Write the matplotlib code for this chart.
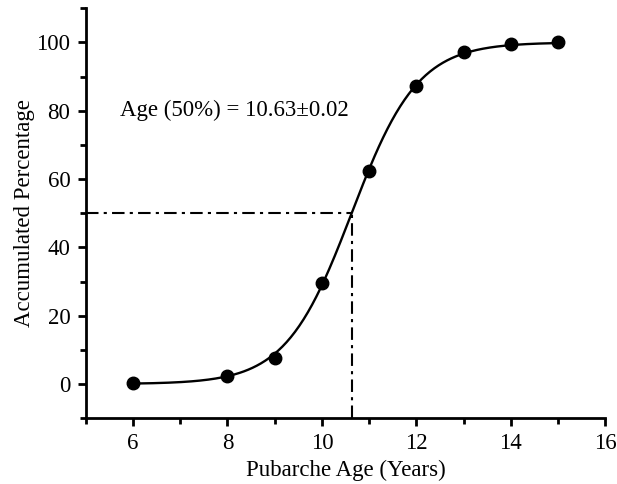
import numpy as np
import matplotlib
matplotlib.use("Agg")
import matplotlib.pyplot as plt
from matplotlib.ticker import MultipleLocator

# Data
ages = [6, 8, 9, 10, 11, 12, 13, 14, 15]
accum_pct = [0.3, 2.2, 7.6, 29.6, 62.4, 87.2, 97.1, 99.5, 100.0]
age50 = 10.63
age50_err = 0.02
fit_width = 0.70  # logistic slope parameter of the fitted curve

plt.rcParams['font.family'] = ['Liberation Serif', 'DejaVu Serif']

fig = plt.figure(figsize=(6.17, 4.84), dpi=100)
ax = fig.add_axes([0.139, 0.136, 0.842, 0.847])

xc = np.linspace(min(ages), max(ages), 300)
yc = 100.0 / (1.0 + np.exp(-(xc - age50) / fit_width))
ax.plot(xc, yc, color='black', lw=1.7, zorder=3)
ax.plot(ages, accum_pct, 'o', color='black', ms=9, zorder=4)

ax.plot([5, age50], [50, 50], color='black', lw=1.5, ls=(0, (6, 2.5, 1.5, 2.5)))
ax.plot([age50, age50], [-10, 50], color='black', lw=1.5, ls=(0, (6, 2.5, 1.5, 2.5)))

ax.text(5.72, 80, f"Age (50%) = {age50:.2f}\u00b1{age50_err:.2f}", fontsize=16.5,
        va='center', ha='left')

ax.set_xlim(5, 16)
ax.set_ylim(-10, 110)
ax.xaxis.set_minor_locator(MultipleLocator(1))
ax.yaxis.set_minor_locator(MultipleLocator(10))
ax.set_xticks([6, 8, 10, 12, 14, 16])
ax.set_yticks([0, 20, 40, 60, 80, 100])

for s in ['top', 'right']:
    ax.spines[s].set_visible(False)
for s in ['left', 'bottom']:
    ax.spines[s].set_linewidth(2)

ax.tick_params(which='major', direction='out', length=6, width=2, labelsize=16.5, pad=5)
ax.tick_params(which='minor', direction='out', length=4, width=2)

ax.set_xlabel("Pubarche Age (Years)", fontsize=16.5, labelpad=4)
ax.set_ylabel("Accumulated Percentage", fontsize=16.5, labelpad=1)

fig.savefig("out.png", dpi=100)
